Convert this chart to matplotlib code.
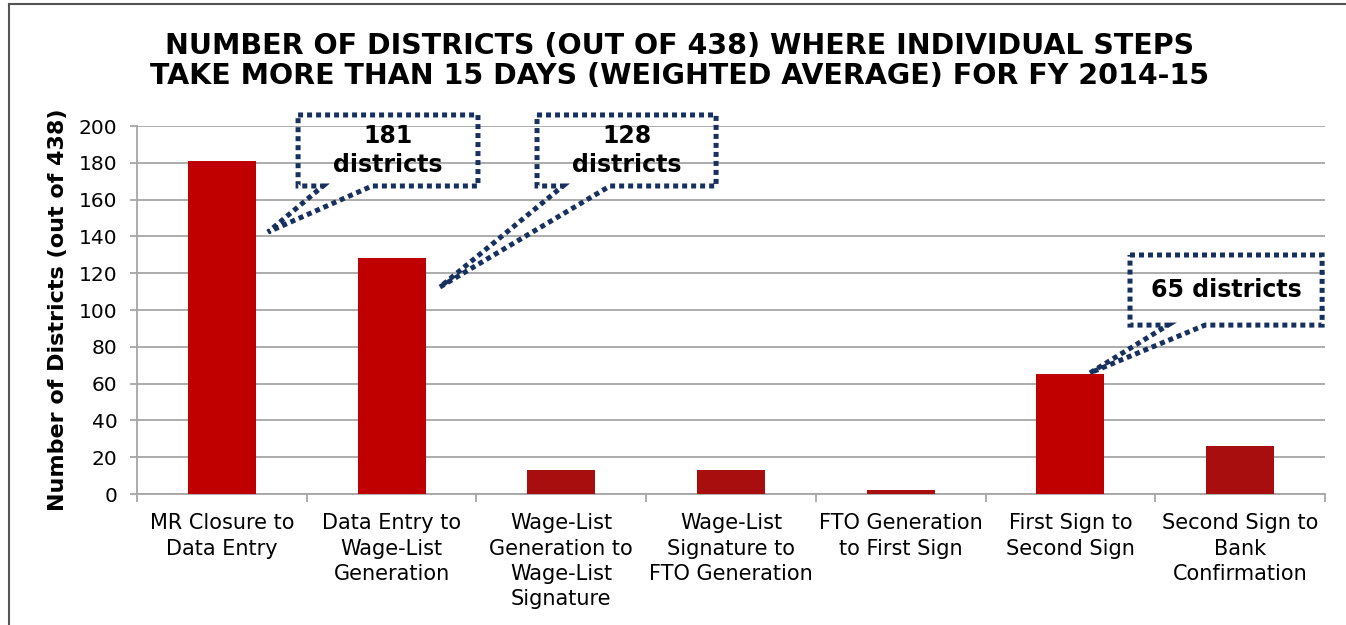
import numpy as np
import matplotlib
matplotlib.use('Agg')
import matplotlib.pyplot as plt
from matplotlib.patches import Polygon
from matplotlib.lines import Line2D

# data
steps = ['MR Closure to\nData Entry',
         'Data Entry to\nWage-List\nGeneration',
         'Wage-List\nGeneration to\nWage-List\nSignature',
         'Wage-List\nSignature to\nFTO Generation',
         'FTO Generation\nto First Sign',
         'First Sign to\nSecond Sign',
         'Second Sign to\nBank\nConfirmation']
districts = [181, 128, 13, 13, 2, 65, 26]
highlight = [True, True, False, False, False, True, False]

RED = '#C00000'
DARKRED = '#A80E0E'
NAVY = '#17305E'

fig = plt.figure(figsize=(13.46, 6.25), dpi=100)
ax = fig.add_axes([0.1018, 0.2096, 0.8826, 0.5888])

x = np.arange(len(steps))
colors = [RED if h else DARKRED for h in highlight]
ax.bar(x, districts, width=0.4, color=colors, zorder=3)

ax.set_xlim(-0.5, len(steps) - 0.5)
ax.set_ylim(0, 200)
ax.set_yticks(np.arange(0, 201, 20))
ax.yaxis.grid(True, color='#A6A6A6', linewidth=1.3, zorder=0)
ax.set_axisbelow(True)
for s in ['top', 'right']:
    ax.spines[s].set_visible(False)
for s in ['left', 'bottom']:
    ax.spines[s].set_color('#A6A6A6')
    ax.spines[s].set_linewidth(1.3)

ax.set_xticks(x)
ax.set_xticklabels(steps, fontsize=15, linespacing=1.33, va='top')
ax.set_xticks(np.arange(-0.5, len(steps)), minor=True)
ax.tick_params(axis='x', which='major', length=0, pad=14)
ax.tick_params(axis='x', which='minor', length=6, color='#A6A6A6', width=1.3)
ax.tick_params(axis='y', length=5, color='#A6A6A6', width=1.3, pad=9, labelsize=14.5)
ax.set_ylabel('Number of Districts (out of 438)', fontsize=16, fontweight='bold', labelpad=8)

fig.text(0.505, 0.903,
         'NUMBER OF DISTRICTS (OUT OF 438) WHERE INDIVIDUAL STEPS\n'
         'TAKE MORE THAN 15 DAYS (WEIGHTED AVERAGE) FOR FY 2014-15',
         ha='center', va='center', fontsize=20.5, fontweight='bold', linespacing=1.1)

# callouts: (bar index, box x0, x1, y0, y1, pointer base left, right, tip x, tip y, label)
callouts = [
    (0, 0.449, 1.509, 167.4, 206.0, 0.596, 0.885, 0.272, 142.4, '{}\ndistricts'),
    (1, 1.857, 2.912, 167.4, 206.0, 2.010, 2.287, 1.285, 112.5, '{}\ndistricts'),
    (5, 5.351, 6.483, 91.8, 129.9, 5.575, 5.793, 5.115, 65.8, '{} districts'),
]
for i, x0, x1, y0, y1, pl, pr, tx, ty, fmt in callouts:
    pts = [(x0, y1), (x1, y1), (x1, y0), (pr, y0), (tx, ty), (pl, y0), (x0, y0)]
    poly = Polygon(pts, closed=True, fill=False, edgecolor=NAVY, linewidth=3.6,
                   linestyle=(0, (1.0, 0.8)), clip_on=False, zorder=5)
    ax.add_patch(poly)
    ax.text((x0 + x1) / 2, (y0 + y1) / 2, fmt.format(districts[i]),
            ha='center', va='center', fontsize=17, fontweight='bold',
            linespacing=1.3, zorder=6)

# outer frame lines of the slide
fig.add_artist(Line2D([0.0067, 1.0], [0.9936, 0.9936], color='#555555', linewidth=1.5))
fig.add_artist(Line2D([0.0067, 0.0067], [0.0, 0.9936], color='#555555', linewidth=1.5))

fig.savefig('out.png', dpi=100)
